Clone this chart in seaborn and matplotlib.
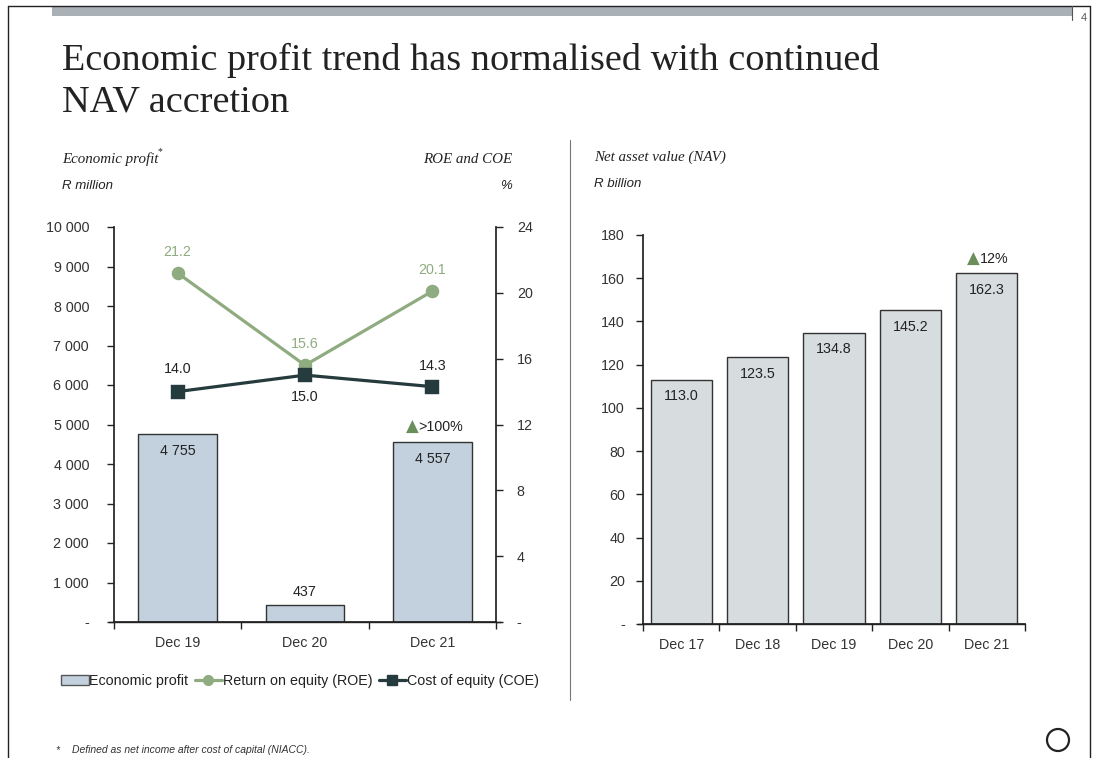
import seaborn as sns
from matplotlib import pyplot as plt
from matplotlib.patches import Patch, Rectangle, Ellipse
from matplotlib.lines import Line2D
from matplotlib.ticker import FuncFormatter, FixedLocator
import pandas as pd

# data
ep_periods = ['Dec 19', 'Dec 20', 'Dec 21']
economic_profit = [4755, 437, 4557]
roe = [21.2, 15.6, 20.1]
coe = [14.0, 15.0, 14.3]
ep_growth = '>100%'

nav_periods = ['Dec 17', 'Dec 18', 'Dec 19', 'Dec 20', 'Dec 21']
nav = [113.0, 123.5, 134.8, 145.2, 162.3]
nav_growth = '12%'

# colours
ep_color = '#c2d1dd'
nav_color = '#d7dcdf'
roe_color = '#8fab80'
coe_color = '#263b3d'
up_color = '#6a8f5a'
txt = '#333333'

W, H = 1096, 758
FS = 10.3

sns.set_theme(style='white')
plt.rcParams['font.family'] = ['Liberation Sans', 'DejaVu Sans']
plt.rcParams['font.size'] = FS


def thousands(v, pos=None):
    if v == 0:
        return '-'
    return f'{int(round(v)):,}'.replace(',', ' ')


def plain(v, pos=None):
    if v == 0:
        return '-'
    return f'{v:g}'


def style_axis(ax, n):
    # tick marks sit on the category boundaries
    ax.set_xlim(-0.5, n - 0.5)
    ax.xaxis.set_minor_locator(FixedLocator([i - 0.5 for i in range(n + 1)]))
    ax.tick_params(axis='x', which='major', length=0, pad=10, labelsize=FS, labelcolor=txt)
    ax.tick_params(axis='x', which='minor', length=5, width=1, color='#222', direction='out', bottom=True)
    ax.set_xlabel('')
    ax.set_ylabel('')
    for s in ['top', 'right']:
        ax.spines[s].set_visible(False)
    ax.spines['left'].set_color('#222')
    ax.spines['bottom'].set_color('#222')


def growth_label(ax, x, y, label, dx, dy):
    ax.annotate('▲', (x, y), xytext=(dx, dy), textcoords='offset points', ha='right',
                va='center', fontsize=12, color=up_color, family='DejaVu Sans')
    ax.annotate(label, (x, y), xytext=(dx, dy), textcoords='offset points', ha='left',
                va='center', fontsize=FS, color='#222')


fig = plt.figure(figsize=(W / 100, H / 100), dpi=100)

# ---------- left: economic profit with ROE / COE ----------
df_ep = pd.DataFrame({'period': ep_periods, 'ep': economic_profit, 'roe': roe, 'coe': coe})

ax = fig.add_axes([114 / W, 1 - 622 / H, 382 / W, 395 / H])
sns.barplot(data=df_ep, x='period', y='ep', color=ep_color, saturation=1,
            edgecolor='#333', linewidth=1, width=0.62, ax=ax)
style_axis(ax, 3)
ax.set_ylim(0, 10000)
ax.set_yticks(range(0, 10001, 1000))
ax.yaxis.set_major_formatter(FuncFormatter(thousands))
ax.tick_params(axis='y', length=5, width=1, color='#222', direction='out', left=True, pad=13,
               labelsize=FS, labelcolor=txt)
ax.plot([-0.012, 1.012], [0, 0], transform=ax.transAxes, color='#222', lw=1, clip_on=False)

for i, v in enumerate(economic_profit):
    off = -12 if v > 1000 else 9
    ax.annotate(thousands(v), (i, v), xytext=(0, off), textcoords='offset points',
                ha='center', va='center', fontsize=FS, color='#222')

growth_label(ax, 2, economic_profit[2], ep_growth, -10, 11)

ax2 = ax.twinx()
sns.pointplot(data=df_ep, x='period', y='roe', color=roe_color, markers='o', markersize=8,
              linewidth=2.3, errorbar=None, ax=ax2)
sns.pointplot(data=df_ep, x='period', y='coe', color=coe_color, markers='s', markersize=8.5,
              linewidth=2.3, errorbar=None, ax=ax2)
ax2.set_xlim(-0.5, 2.5)
ax2.set_ylim(0, 24)
ax2.set_yticks(range(0, 25, 4))
ax2.yaxis.set_major_formatter(FuncFormatter(plain))
ax2.tick_params(axis='y', length=5, width=1, color='#222', direction='out', right=True, pad=10,
                labelsize=FS, labelcolor=txt)
ax2.set_ylabel('')
ax2.set_xlabel('')
ax2.spines['top'].set_visible(False)
ax2.spines['left'].set_visible(False)
ax2.spines['bottom'].set_visible(False)
ax2.spines['right'].set_color('#222')

for i, v in enumerate(roe):
    ax2.annotate(f'{v:.1f}', (i, v), xytext=(0, 15), textcoords='offset points',
                 ha='center', va='center', fontsize=FS, color=roe_color)
coe_off = [16, -16, 15]
for i, v in enumerate(coe):
    ax2.annotate(f'{v:.1f}', (i, v), xytext=(0, coe_off[i]), textcoords='offset points',
                 ha='center', va='center', fontsize=FS, color='#222')

handles = [Patch(facecolor=ep_color, edgecolor='#555', linewidth=1),
           Line2D([], [], color=roe_color, lw=2.3, marker='o', ms=7),
           Line2D([], [], color=coe_color, lw=2.3, marker='s', ms=7)]
fig.legend(handles, ['Economic profit', 'Return on equity (ROE)', 'Cost of equity (COE)'],
           loc='center', bbox_to_anchor=(300 / W, 1 - 681 / H), ncol=3, frameon=False,
           handlelength=1.9, handletextpad=0.05, columnspacing=0.45, fontsize=FS,
           labelcolor='#222')

# ---------- right: net asset value ----------
df_nav = pd.DataFrame({'period': nav_periods, 'nav': nav})
axn = fig.add_axes([643 / W, 1 - 624 / H, 382 / W, 389 / H])
sns.barplot(data=df_nav, x='period', y='nav', color=nav_color, saturation=1,
            edgecolor='#333', linewidth=1, width=0.8, ax=axn)
style_axis(axn, 5)
axn.set_ylim(0, 180)
axn.set_yticks(range(0, 181, 20))
axn.yaxis.set_major_formatter(FuncFormatter(plain))
axn.tick_params(axis='y', length=5, width=1, color='#222', direction='out', left=True, pad=8,
                labelsize=FS, labelcolor=txt)
axn.plot([-0.013, 1.0], [0, 0], transform=axn.transAxes, color='#222', lw=1, clip_on=False)

for i, v in enumerate(nav):
    axn.annotate(f'{v:.1f}', (i, v), xytext=(0, -12), textcoords='offset points',
                 ha='center', va='center', fontsize=FS, color='#222')
growth_label(axn, 4, nav[4], nav_growth, -5, 10.5)

# ---------- slide furniture ----------
serif = ['Liberation Serif', 'DejaVu Serif']
fig.text(62 / W, 1 - 70 / H, 'Economic profit trend has normalised with continued',
         family=serif, fontsize=27.5, color='#222', va='baseline')
fig.text(62 / W, 1 - 111 / H, 'NAV accretion', family=serif, fontsize=27.5, color='#222',
         va='baseline')

fig.text(62 / W, 1 - 163 / H, 'Economic profit', family=serif, style='italic', fontsize=10.8,
         color='#222', va='baseline')
fig.text(158 / W, 1 - 154 / H, '*', family=serif, fontsize=7, color='#222', va='baseline')
fig.text(62 / W, 1 - 189 / H, 'R million', style='italic', fontsize=9.5, color='#222',
         va='baseline')
fig.text(512 / W, 1 - 163 / H, 'ROE and COE', family=serif, style='italic', fontsize=10.8,
         color='#222', va='baseline', ha='right')
fig.text(512 / W, 1 - 189 / H, '%', style='italic', fontsize=9.5, color='#222',
         va='baseline', ha='right')
fig.text(594 / W, 1 - 161 / H, 'Net asset value (NAV)', family=serif, style='italic',
         fontsize=10.8, color='#222', va='baseline')
fig.text(594 / W, 1 - 187 / H, 'R billion', style='italic', fontsize=9.5, color='#222',
         va='baseline')

fig.text(55 / W, 1 - 753 / H, '*', style='italic', fontsize=7.5, color='#333', va='baseline')
fig.text(72 / W, 1 - 753 / H, 'Defined as net income after cost of capital (NIACC).',
         style='italic', fontsize=7.5, color='#333', va='baseline')

# panel divider
fig.add_artist(Line2D([570 / W, 570 / W], [1 - 140 / H, 1 - 700 / H], color='#777', lw=0.8))

# frame and header bar
fig.add_artist(Line2D([8 / W, 8 / W], [0, 1 - 6 / H], color='#222', lw=1))
fig.add_artist(Line2D([8 / W, 1090 / W], [1 - 6 / H, 1 - 6 / H], color='#222', lw=1))
fig.add_artist(Line2D([1090 / W, 1090 / W], [0, 1 - 6 / H], color='#222', lw=1))
fig.add_artist(Rectangle((52 / W, 1 - 16 / H), 1020 / W, 10 / H, transform=fig.transFigure,
                         facecolor='#a9b1b6', edgecolor='none'))
fig.add_artist(Line2D([1072 / W, 1072 / W], [1 - 6 / H, 1 - 20 / H], color='#555', lw=0.8))
fig.text(1084 / W, 1 - 18 / H, '4', fontsize=8, color='#555', ha='center', va='center')

# logo placeholder ring
fig.add_artist(Ellipse((1058 / W, 1 - 740 / H), 22 / W, 22 / H, transform=fig.transFigure,
                       facecolor='none', edgecolor='#222', lw=1.6))

fig.savefig('out.png', dpi=100)
